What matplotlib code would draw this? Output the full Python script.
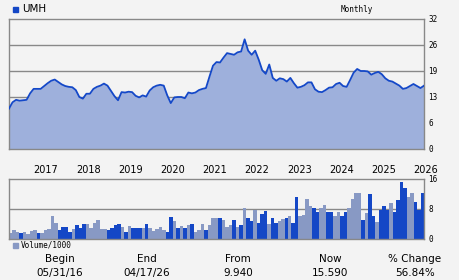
import numpy as np
import matplotlib.pyplot as plt
from matplotlib.patches import Rectangle

# monthly closes, 05/31/16 .. 04/17/26
prices = [9.94, 11.5, 12.1, 11.9, 12.0, 12.1, 13.7, 14.8, 14.8, 14.8,
          15.5, 16.2, 16.8, 17.1, 16.5, 15.9, 15.5, 15.3, 15.2, 14.5,
          12.8, 12.4, 13.6, 13.6, 14.8, 15.3, 15.6, 16.1, 15.6, 14.3,
          13.0, 12.0, 14.0, 13.9, 14.1, 14.0, 13.1, 12.7, 13.2, 12.9,
          14.4, 15.2, 15.6, 15.8, 15.6, 13.2, 11.3, 12.7, 12.8, 12.8,
          12.5, 13.9, 13.7, 13.9, 14.5, 14.8, 15.0, 17.8, 20.5, 21.4,
          21.3, 22.5, 23.6, 23.4, 23.2, 23.8, 24.0, 27.0, 24.2, 23.2,
          24.2, 22.0, 19.4, 18.5, 20.8, 17.5, 16.8, 17.4, 17.2, 16.6,
          17.5, 16.2, 15.1, 15.3, 15.7, 16.4, 16.4, 14.7, 14.1, 14.0,
          14.5, 15.1, 15.2, 16.0, 16.3, 15.5, 15.3, 17.0, 18.8, 19.7,
          19.2, 19.2, 19.1, 18.3, 18.7, 19.0, 18.4, 17.4, 16.8, 16.6,
          16.1, 15.6, 14.8, 15.0, 15.5, 16.0, 15.5, 15.0, 15.59]

# volume / 1000 and whether the month closed up (dark) or down (light)
volume = [1.6, 2.4, 1.9, 1.6, 1.9, 1.3, 2.1, 2.4, 1.6, 1.6,
          2.4, 2.7, 6.1, 4.3, 2.4, 3.2, 3.2, 1.9, 2.7, 3.7,
          2.9, 4.0, 4.0, 2.9, 4.3, 5.1, 2.7, 2.7, 2.4, 2.9,
          3.7, 4.0, 3.2, 1.9, 3.5, 2.9, 2.9, 2.9, 2.9, 4.0,
          2.9, 2.1, 2.7, 3.2, 2.4, 1.9, 5.9, 4.8, 2.9, 3.5,
          2.9, 3.7, 4.0, 1.9, 2.4, 4.0, 2.4, 3.7, 5.6, 5.6,
          5.6, 5.1, 3.2, 3.7, 5.1, 3.2, 3.7, 8.3, 5.6, 4.8,
          7.7, 4.3, 6.7, 7.5, 4.0, 5.6, 4.3, 4.8, 5.3, 5.6,
          6.1, 4.3, 11.2, 6.1, 6.4, 10.7, 8.8, 8.3, 7.2, 8.3,
          9.1, 7.2, 7.2, 6.1, 7.2, 6.1, 7.2, 8.3, 10.7, 12.3,
          12.3, 5.1, 6.9, 12.0, 6.1, 4.5, 7.7, 8.8, 7.7, 9.6,
          7.2, 10.4, 15.2, 13.6, 11.2, 12.3, 9.9, 7.7, 12.3]
up = "LLLDLLLLDLLLLLDDDDLDDDLLLLLLDDDDLDLDDDLDLLLLLDDLDLDLDLLLDLLL" \
     "DLLLDLDLDDLDDDLDDLLDLDDLLLLDDLLDDLLDDLLLLDLDDLDDDLDDDDLLDDD"

years = ['2017', '2018', '2019', '2020', '2021', '2022', '2023', '2024', '2025', '2026']
price_ticks = [0, 6.4, 12.8, 19.2, 25.6, 32]
price_labels = ['0', '6', '13', '19', '26', '32']
vol_ticks = [0, 8, 16]

bg = '#f3f3f3'
line_c = '#1448c8'
fill_c = '#9eb0dc'
dark_c = '#1447c6'
light_c = '#8899c4'
grid_c = '#888888'

fig = plt.figure(figsize=(4.6, 2.8), dpi=100, facecolor=bg)
W, H = 460, 280

ax = fig.add_axes([9 / W, 1 - 149 / H, 415 / W, 130 / H], facecolor=bg)
x = np.arange(len(prices))
ax.fill_between(x, prices, 0, color=fill_c, lw=0, zorder=2)
ax.plot(x, prices, color=line_c, lw=1.3, zorder=3)
for t in price_ticks[1:-1]:
    ax.axhline(t, color=grid_c, lw=1.0, zorder=1)
ax.set_xlim(0, len(prices) - 1)
ax.set_ylim(0, 32)
ax.set_xticks([])
ax.yaxis.tick_right()
ax.set_yticks(price_ticks)
ax.set_yticklabels(price_labels, fontsize=5.5, family='DejaVu Sans Mono')
ax.tick_params(axis='y', length=0, pad=3)
for s in ax.spines.values():
    s.set_color(grid_c)
    s.set_linewidth(1.0)

# year labels, left aligned on January
for i, yr in enumerate(years):
    ax.text(7 + 12 * i, -0.16, yr, transform=ax.get_xaxis_transform(),
            ha='left', va='center', fontsize=7, family='DejaVu Sans')

axv = fig.add_axes([9 / W, 41 / H, 415 / W, 60 / H], facecolor=bg)
cols = [dark_c if c == 'D' else light_c for c in up]
axv.bar(np.arange(len(volume)), volume, width=1.0, align='edge', color=cols, lw=0, zorder=2)
axv.axhline(8, color=grid_c, lw=1.0, zorder=1)
axv.set_xlim(0, len(volume))
axv.set_ylim(0, 16)
axv.set_xticks([])
axv.yaxis.tick_right()
axv.set_yticks(vol_ticks)
axv.set_yticklabels([str(v) for v in vol_ticks], fontsize=5.5, family='DejaVu Sans Mono')
axv.tick_params(axis='y', length=0, pad=3)
for s in axv.spines.values():
    s.set_color(grid_c)
    s.set_linewidth(1.0)

# header
fig.patches.append(Rectangle((13 / W, 1 - 12 / H), 5 / W, 5 / H, transform=fig.transFigure,
                             color=dark_c))
fig.text(22 / W, 1 - 9 / H, 'UMH', fontsize=7.5, family='DejaVu Sans', va='center')
fig.text(357 / W, 1 - 9 / H, 'Monthly', fontsize=5.5, family='DejaVu Sans Mono',
         ha='center', va='center')

# volume legend
fig.patches.append(Rectangle((13 / W, 1 - 248 / H), 5 / W, 5 / H, transform=fig.transFigure,
                             color=light_c))
fig.text(21 / W, 1 - 245 / H, 'Volume/1000', fontsize=5.5, family='DejaVu Sans Mono', va='center')

# summary
heads = ['Begin', 'End', 'From', 'Now', '% Change']
vals = ['05/31/16', '04/17/26', '9.940', '15.590', '56.84%']
xs = [60, 147, 238, 330, 415]
for h, v, xx in zip(heads, vals, xs):
    fig.text(xx / W, 1 - 259 / H, h, fontsize=7.5, family='DejaVu Sans', ha='center', va='center')
    fig.text(xx / W, 1 - 273 / H, v, fontsize=7.5, family='DejaVu Sans', ha='center', va='center')

fig.savefig('out.png', dpi=100, facecolor=bg)
